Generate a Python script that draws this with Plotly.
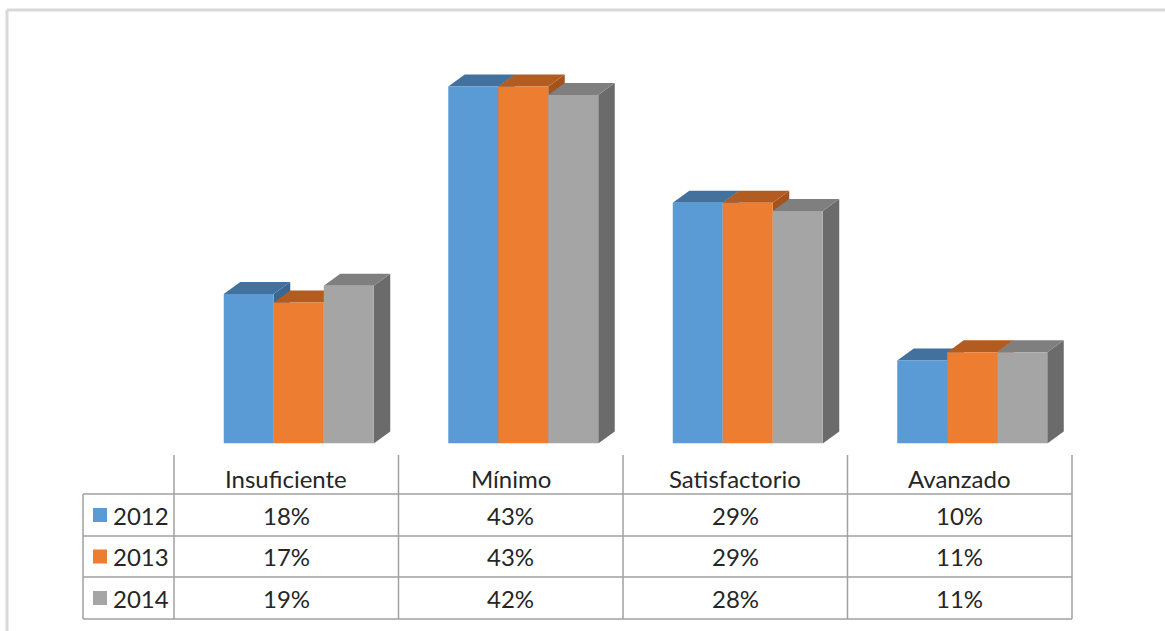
import plotly.graph_objects as go

categories = ["Insuficiente", "Mínimo", "Satisfactorio", "Avanzado"]
years = ["2012", "2013", "2014"]
values_2012 = [18, 43, 29, 10]
values_2013 = [17, 43, 29, 11]
values_2014 = [19, 42, 28, 11]
series = [values_2012, values_2013, values_2014]

front_colors = ["#5b9bd5", "#ed7d31", "#a5a5a5"]
top_colors = ["#41719c", "#b35c21", "#7f7f7f"]
side_colors = ["#3a6791", "#a4531d", "#6b6b6b"]

W, H = 1165, 631


def px(x):
    return x / W


def py(y):
    return 1 - y / H


# plot geometry (pixels)
col_edges = [174, 398.5, 623, 847.5, 1072]
x_left, x_right = col_edges[0], col_edges[-1]
unit_px = (x_right - x_left) / 4.0
base_px = 443.5
px_per_pct = 8.3
y_max = 50
top_px = base_px - y_max * px_per_pct

bw = 50 / unit_px          # bar width in category units
shift = 12.5 / unit_px     # front-face shift of groups
dx = 16.5 / unit_px        # depth in x
dy = 12 / px_per_pct       # depth in y

fig = go.Figure()
shapes = []
side_shapes = []
top_shapes = []

for k, (name, vals) in enumerate(zip(years, series)):
    xs = [i + shift + (k - 1) * bw for i in range(len(categories))]
    fig.add_trace(go.Bar(
        x=xs, y=vals, width=bw, name=name,
        marker=dict(color=front_colors[k], line=dict(width=0)),
        showlegend=False, hoverinfo="skip",
    ))
    for xc, v in zip(xs, vals):
        x0, x1 = xc - bw / 2, xc + bw / 2
        side_shapes.append(dict(
            type="path", xref="x", yref="y", layer="below",
            path=f"M{x1},0 L{x1+dx},{dy} L{x1+dx},{v+dy} L{x1},{v} Z",
            fillcolor=side_colors[k], line=dict(width=0)))
        top_shapes.append(dict(
            type="path", xref="x", yref="y", layer="below",
            path=f"M{x0},{v} L{x1},{v} L{x1+dx},{v+dy} L{x0+dx},{v+dy} Z",
            fillcolor=top_colors[k], line=dict(width=0)))

shapes += side_shapes + top_shapes

# outer chart border (top & left visible)
border_col = "#d9d9d9"
shapes.append(dict(type="line", xref="paper", yref="paper", x0=px(7), x1=px(1170),
                   y0=py(10), y1=py(10), line=dict(color=border_col, width=3), layer="above"))
shapes.append(dict(type="line", xref="paper", yref="paper", x0=px(7), x1=px(7),
                   y0=py(10), y1=py(640), line=dict(color=border_col, width=3), layer="above"))

# data table grid
grid_col = "#a0a0a0"
row_lines = [494, 536, 577, 619]
for y in row_lines:
    shapes.append(dict(type="line", xref="paper", yref="paper", x0=px(83), x1=px(1072),
                       y0=py(y), y1=py(y), line=dict(color=grid_col, width=1.5)))
shapes.append(dict(type="line", xref="paper", yref="paper", x0=px(83), x1=px(83),
                   y0=py(494), y1=py(619), line=dict(color=grid_col, width=1.5)))
for x in col_edges:
    shapes.append(dict(type="line", xref="paper", yref="paper", x0=px(x), x1=px(x),
                       y0=py(455), y1=py(619), line=dict(color=grid_col, width=1.5)))

annotations = []
font = dict(family="Lato, Carlito, Calibri, sans-serif", size=24, color="#262626")
row_centers = [515, 556.5, 598]
for i, cat in enumerate(categories):
    cx = (col_edges[i] + col_edges[i + 1]) / 2
    annotations.append(dict(text=cat, x=px(cx), y=py(478), xref="paper", yref="paper",
                            showarrow=False, font=font, xanchor="center", yanchor="middle"))
    for k, vals in enumerate(series):
        annotations.append(dict(text=f"{vals[i]}%", x=px(cx), y=py(row_centers[k]),
                                xref="paper", yref="paper", showarrow=False, font=font,
                                xanchor="center", yanchor="middle"))
for k, name in enumerate(years):
    annotations.append(dict(text=name, x=px(111), y=py(row_centers[k]), xref="paper", yref="paper",
                            showarrow=False, font=font, xanchor="left", yanchor="middle"))
    shapes.append(dict(type="rect", xref="paper", yref="paper",
                       x0=px(93), x1=px(107), y0=py(row_centers[k] + 7), y1=py(row_centers[k] - 7),
                       fillcolor=front_colors[k], line=dict(width=0)))

fig.update_layout(
    width=W, height=H,
    margin=dict(l=0, r=0, t=0, b=0),
    paper_bgcolor="white", plot_bgcolor="rgba(0,0,0,0)",
    xaxis=dict(domain=[px(x_left), px(x_right)], range=[-0.5, 3.5], visible=False, fixedrange=True),
    yaxis=dict(domain=[py(base_px), py(top_px)], range=[0, y_max], visible=False, fixedrange=True),
    shapes=shapes, annotations=annotations,
    showlegend=False,
)

fig.write_html("out.html", config={"displayModeBar": False},
               post_script="document.body.style.margin='0';document.body.style.overflow='hidden';")
